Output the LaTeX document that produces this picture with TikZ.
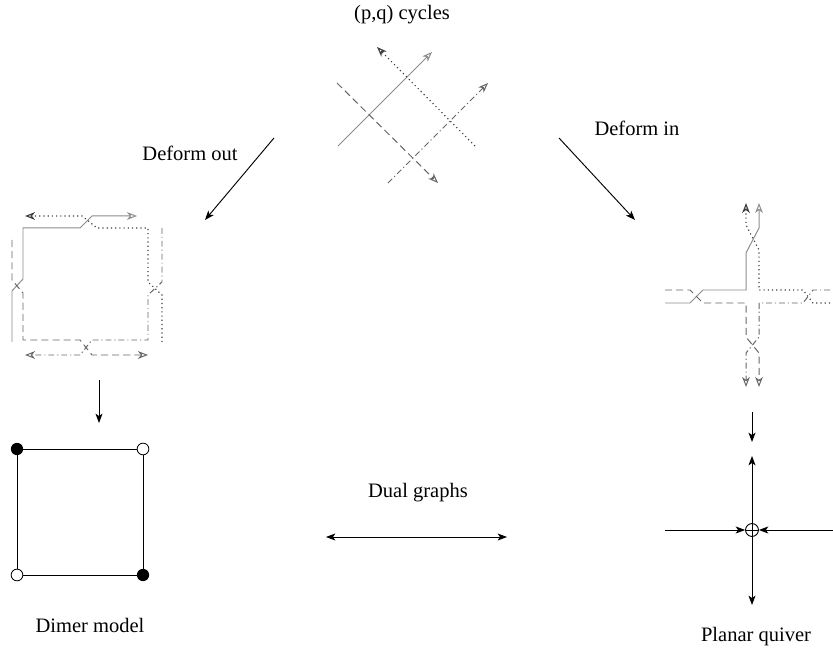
\documentclass[tikz,border=0pt]{standalone}
\usepackage{fontspec}
\setmainfont{Liberation Serif}
\usetikzlibrary{arrows.meta}
\definecolor{solidgray}{gray}{0.55}
\definecolor{dotgray}{gray}{0.25}
\definecolor{dashgray}{gray}{0.4}
\definecolor{ddgray}{gray}{0.4}
\tikzset{
  lbl/.style={font=\fontsize{17.5}{20}\selectfont, inner sep=0pt},
  maparrow/.style={line width=0.8pt, -{Stealth[length=8pt,width=6pt,inset=2pt]}},
  cyc/.style={line width=0.85pt},
  cyctip/.style={-{Stealth[length=8.5pt,width=6.5pt,inset=2.5pt,open]}},
  cycsolid/.style={cyc, color=solidgray},
  cycdot/.style={cyc, color=dotgray, line width=1pt, dash pattern=on 1pt off 2.6pt},
  cycdash/.style={cyc, color=dashgray, dash pattern=on 6pt off 3.5pt},
  cycdd/.style={cyc, color=ddgray, dash pattern=on 5pt off 2.5pt on 1pt off 2.5pt},
  blackdot/.style={circle, fill=black, inner sep=0pt, minimum size=10.5pt},
  whitedot/.style={circle, draw=black, fill=white, line width=0.7pt, inner sep=0pt, minimum size=10pt},
}
\begin{document}
\begin{tikzpicture}[x=0.03cm, y=-0.03cm]
\useasboundingbox (0,0) rectangle (833,656);
% labels
\node[lbl] (cyclbl) at (402,15) {(p,q) cycles};
\node[lbl] (outlbl) at (190,153) {Deform out};
\node[lbl] (inlbl) at (637,128) {Deform in};
\node[lbl] (duallbl) at (418,493) {Dual graphs};
\node[lbl] (dimerlbl) at (90,625) {Dimer model};
\node[lbl] (quiverlbl) at (756,637) {Planar quiver};
% (p,q) cycles
\draw[cycsolid, cyctip] (338,146) -- (432,52);
\draw[cycdot, cyctip] (475,146) -- (377,47);
\draw[cycdash, cyctip] (337,83) -- (438,183);
\draw[cycdd, cyctip] (388,183) -- (488,83);
% deformed out
\draw[cycsolid, cyctip] (12,342) -- (12,291) -- (23,279) -- (23,228) -- (80,228) -- (92,216) -- (137,216);
\draw[cycdot, cyctip] (162,342) -- (162,295) -- (148,282) -- (148,228) -- (97,228) -- (82,216) -- (25,216);
\draw[cycdd, cyctip] (162,228) -- (162,282) -- (148,295) -- (148,340) -- (92,340) -- (80,355) -- (25,355);
\draw[cycdash, cyctip] (12,240) -- (12,280) -- (23,293) -- (23,340) -- (80,340) -- (92,355) -- (148,355);
% deformed in
\draw[cycsolid, cyctip] (665,303) -- (690,303) -- (703,290) -- (746,290) -- (746,253) -- (759,228) -- (759,203);
\draw[cycdot, cyctip] (830,303) -- (813,303) -- (803,290) -- (759,290) -- (759,250) -- (746,225) -- (746,203);
\draw[cycdd, cyctip] (830,290) -- (813,290) -- (803,303) -- (759,303) -- (759,337) -- (746,353) -- (746,387);
\draw[cycdash, cyctip] (665,290) -- (690,290) -- (703,303) -- (746,303) -- (746,337) -- (759,353) -- (759,387);
% maps
\coordinate (outa) at (274,138);
\coordinate (outb) at (205,220);
\coordinate (ina) at (559,138);
\coordinate (inb) at (635,220);
\coordinate (dima) at (99,380);
\coordinate (dimb) at (99,423);
\coordinate (quiva) at (752,412);
\coordinate (quivb) at (752,442);
\coordinate (duala) at (326,537);
\coordinate (dualb) at (507,537);
\draw[maparrow] (outa) -- (outb);
\draw[maparrow] (ina) -- (inb);
\draw[maparrow] (dima) -- (dimb);
\draw[maparrow] (quiva) -- (quivb);
\draw[maparrow, {Stealth[length=8pt,width=6pt,inset=2pt]}-{Stealth[length=8pt,width=6pt,inset=2pt]}] (duala) -- (dualb);
% dimer model
\node[blackdot] (b1) at (17,449) {};
\node[whitedot] (w1) at (143,449) {};
\node[whitedot] (w2) at (17,575) {};
\node[blackdot] (b2) at (143,575) {};
\draw[line width=0.8pt] (b1.center) -- (w1) -- (b2.center) -- (w2) -- (b1.center);
% planar quiver
\node[circle, draw, line width=0.8pt, inner sep=0pt, minimum size=11pt] (q) at (752,530) {};
\coordinate (qw) at (665,530);
\coordinate (qe) at (833,530);
\coordinate (qn) at (752,456);
\coordinate (qs) at (752,605);
\draw[line width=0.8pt] (q.west) -- (q.east);
\draw[maparrow] (qw) -- (q.west);
\draw[maparrow] (qe) -- (q.east);
\draw[maparrow] (q.center) -- (qn);
\draw[maparrow] (q.center) -- (qs);
\end{tikzpicture}
\end{document}
